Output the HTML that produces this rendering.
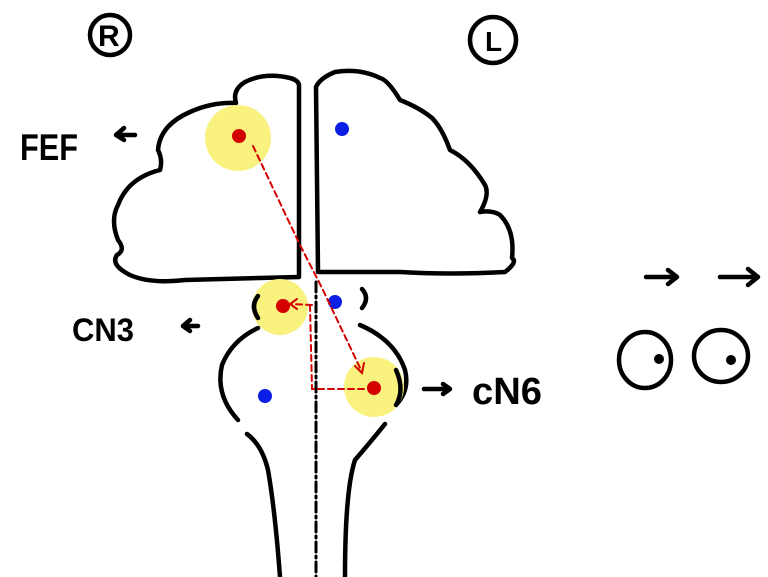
<!DOCTYPE html>
<html><head><meta charset="utf-8"><style>
html,body{margin:0;padding:0;background:#fff;}
svg{display:block;}
text{font-family:"Liberation Sans",sans-serif;fill:#000;}
</style></head><body>
<svg width="768" height="577" viewBox="0 0 768 577" xmlns="http://www.w3.org/2000/svg">
<g fill="none" stroke="#000" stroke-width="4.5" stroke-linecap="round" stroke-linejoin="round">
<circle cx="110" cy="35" r="20"/>
<circle cx="493" cy="40" r="23"/>
<path d="M299,85 L299,277 L185,280 Q150,284 130,275 Q110,265 117,255 Q126,250 118,240 Q110,220 118,205 Q128,178 160,170 Q163,160 158,150 Q160,125 190,112 Q212,102 236,103 Q232,90 245,82 Q265,72 290,78 Q298,80 299,85"/>
<path d="M316,87 L318,272 L400,272 Q450,275 505,272 Q518,262 512,258 Q515,230 500,215 Q492,210 480,212 Q490,195 485,185 Q470,160 450,150 Q442,128 432,118 Q420,108 400,100 Q388,80 380,78 Q360,68 335,72 Q320,78 316,87"/>
<path d="M258,296 Q250,306 258,318"/>
<path d="M362,289 Q370,298 362,308"/>
<path d="M258,328 Q232,340 222,365 Q215,395 238,420"/>
<path d="M360,325 Q395,340 405,370 Q410,390 396,405"/>
<path d="M247,434 Q262,445 268,470 Q275,510 280,577"/>
<path d="M385,424 Q368,445 355,460 Q345,490 345,577"/>
<path d="M316,282 L316,577" stroke-width="3" stroke-dasharray="10,4,2,4"/>
<ellipse cx="645" cy="360" rx="26" ry="28"/>
<ellipse cx="721" cy="356" rx="27" ry="26"/>
<path d="M646,277 L677,277 M668,270 L677,277 L668,284"/>
<path d="M720,277 L758,277 M748,269 L758,277 L748,285"/>
<path d="M116,135 L135,135 M124,128 L116,135 L124,140"/>
<path d="M183,326 L198,326 M190,320 L183,326 L190,331"/>
<path d="M424,389 L450,389 M443,384 L450,389 L443,394"/>
</g>
<g fill="#f9f27e">
<circle cx="238" cy="138" r="33"/>
<circle cx="280" cy="307" r="28"/>
<circle cx="374" cy="387" r="30"/>
</g>
<g fill="none" stroke="#000" stroke-width="4.5" stroke-linecap="round">
<path d="M258,296 Q250,306 258,318"/>
<path d="M396,370 Q405,390 396,405"/>
</g>
<g fill="#d40000">
<circle cx="239" cy="136" r="7"/>
<circle cx="283" cy="306" r="7"/>
<circle cx="374" cy="388" r="7"/>
</g>
<g fill="#0a1ee6">
<circle cx="342" cy="129" r="7"/>
<circle cx="335" cy="302" r="7"/>
<circle cx="265" cy="396" r="7"/>
</g>
<g fill="#000">
<circle cx="659" cy="359" r="5"/>
<circle cx="731" cy="360" r="5"/>
</g>
<g fill="none" stroke="#d40000" stroke-width="2" stroke-dasharray="6,4" stroke-linecap="round">
<path d="M253,146 L300,245 L322,288 L362,372"/>
<path d="M310,305 L312,389 L365,389"/>
<path d="M312,305 L291,304"/>
</g>
<g fill="none" stroke="#d40000" stroke-width="2" stroke-linecap="round">
<path d="M355,366 L362,373 L364,363"/>
<path d="M297,299 L290,304 L297,309"/>
</g>
<text x="98" y="46" font-size="30" font-weight="bold">R</text>
<text x="485" y="51" font-size="28" font-weight="bold">L</text>
<text x="20" y="160" font-size="37" font-weight="bold" textLength="58" lengthAdjust="spacingAndGlyphs">FEF</text>
<text x="72" y="341" font-size="32" font-weight="bold" textLength="62" lengthAdjust="spacingAndGlyphs">CN3</text>
<text x="472" y="404" font-size="38" font-weight="bold" textLength="70" lengthAdjust="spacingAndGlyphs">cN6</text>
</svg>
</body></html>
